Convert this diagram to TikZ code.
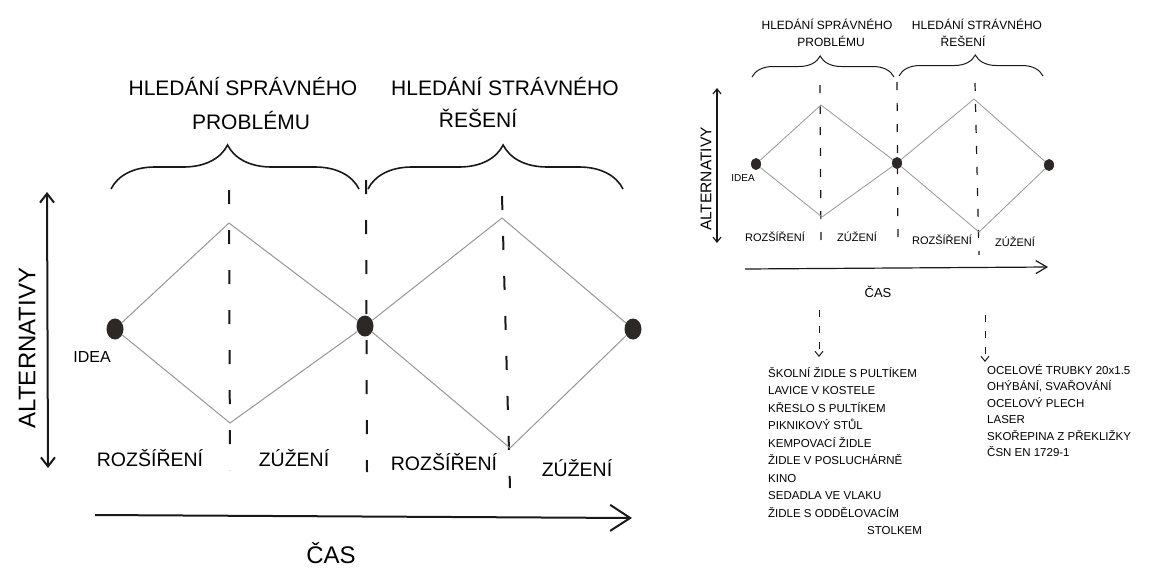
\documentclass[tikz,border=0pt]{standalone}
\usepackage{fontspec}
\setmainfont{Liberation Sans}
\usetikzlibrary{arrows.meta, decorations.pathreplacing, shapes.geometric}
\definecolor{inkblack}{RGB}{25, 25, 25}
\definecolor{pathgray}{RGB}{150, 150, 150}
\definecolor{dotdark}{RGB}{45, 40, 38}

\tikzset{
  bigdot/.style={ellipse, fill=dotdark, inner sep=0pt, minimum width=17pt, minimum height=21pt},
  smalldot/.style={ellipse, fill=dotdark, inner sep=0pt, minimum width=10pt, minimum height=12pt},
  funnel/.style={pathgray, line width=1pt},
  bigsep/.style={inkblack, line width=2pt, dash pattern=on 14pt off 26pt},
  smallsep/.style={inkblack, line width=1.2pt, dash pattern=on 8pt off 13pt},
  bigbrace/.style={inkblack, line width=1.6pt, decorate, decoration={brace, amplitude=44pt, aspect=#1}},
  smallbrace/.style={inkblack, line width=1pt, decorate, decoration={brace, amplitude=21pt, aspect=#1}},
  bigaxis/.style={inkblack, line width=2pt},
  smallaxis/.style={inkblack, line width=1.2pt}
}

\begin{document}
\begin{tikzpicture}[x=1pt, y=-1pt, >=Stealth]

  \useasboundingbox (0, 0) rectangle (1157, 568);

  % ---------- Large sketch ----------
  % Headings
  \node[font=\fontsize{21}{34}\selectfont, align=center] (headA1) at (243, 103) {HLEDÁNÍ SPRÁVNÉHO\\\hspace*{16pt}PROBLÉMU};
  \node[font=\fontsize{21}{32}\selectfont, align=center] (headA2) at (505, 102) {HLEDÁNÍ STRÁVNÉHO\\ŘEŠENÍ\hspace*{54pt}};

  % Braces
  \draw[bigbrace=0.47] (111, 189) -- (359, 189);
  \draw[bigbrace=0.53] (368, 189) -- (623, 189);

  % Axes
  \draw[bigaxis, {Straight Barb[length=9pt, width=14pt]}-{Straight Barb[length=9pt, width=14pt]}] (47, 192) -- (48, 468);
  \node[font=\fontsize{24}{24}\selectfont, rotate=90] (altA) at (27, 348) {ALTERNATIVY};
  \draw[bigaxis, -{Straight Barb[length=20pt, width=26pt]}] (95, 515) -- (632, 518);
  \node[font=\fontsize{24}{24}\selectfont] (casA) at (331, 553) {ČAS};

  % Phase separators
  \draw[bigsep] (229, 190) -- (230, 470);
  \draw[bigsep] (366, 180) -- (367, 472);
  \draw[bigsep] (502, 196) -- (510, 488);

  % Funnels
  \node[bigdot] (ideaA) at (115, 329) {};
  \node[bigdot] (midA) at (365, 326) {};
  \node[bigdot] (endA) at (633, 329) {};
  \coordinate (topA1) at (229, 223);
  \coordinate (botA1) at (230, 423);
  \coordinate (topA2) at (502, 218);
  \coordinate (botA2) at (510, 448);
  \draw[funnel] (ideaA) -- (topA1) -- (midA) -- (botA2) -- (endA);
  \draw[funnel] (ideaA) -- (botA1) -- (midA) -- (topA2) -- (endA);
  \node[font=\fontsize{16}{16}\selectfont] (ideaLabA) at (92, 357) {IDEA};

  % Phase labels
  \node[font=\fontsize{19.5}{20}\selectfont] (rozA1) at (150, 458) {ROZŠÍŘENÍ};
  \node[font=\fontsize{19.5}{20}\selectfont] (zuzA1) at (294, 458) {ZÚŽENÍ};
  \node[font=\fontsize{19.5}{20}\selectfont] (rozA2) at (444, 462) {ROZŠÍŘENÍ};
  \node[font=\fontsize{19.5}{20}\selectfont] (zuzA2) at (577, 468) {ZÚŽENÍ};

  % ---------- Small sketch ----------
  % Headings
  \node[font=\fontsize{12}{17}\selectfont, align=center] (headB1) at (827, 33) {HLEDÁNÍ SPRÁVNÉHO\\\hspace*{8pt}PROBLÉMU};
  \node[font=\fontsize{12}{17}\selectfont, align=center] (headB2) at (977, 33) {HLEDÁNÍ STRÁVNÉHO\\ŘEŠENÍ\hspace*{28pt}};

  % Braces
  \draw[smallbrace=0.48] (752, 77) -- (894, 77);
  \draw[smallbrace=0.53] (899, 76) -- (1043, 76);

  % Axes
  \draw[smallaxis, {Straight Barb[length=5pt, width=8pt]}-{Straight Barb[length=5pt, width=8pt]}] (717, 88) -- (717, 243);
  \node[font=\fontsize{15.5}{16}\selectfont, rotate=90] (altB) at (706, 179) {ALTERNATIVY};
  \draw[smallaxis, -{Straight Barb[length=11pt, width=13pt]}] (745, 269) -- (1048, 267);
  \node[font=\fontsize{13}{13}\selectfont] (casB) at (878, 292) {ČAS};

  % Phase separators
  \draw[smallsep] (820, 85) -- (821, 242);
  \draw[smallsep] (897, 82) -- (898, 245);
  \draw[smallsep] (975, 83) -- (979, 255);

  % Funnels
  \node[smalldot] (ideaB) at (756, 164) {};
  \node[smalldot] (midB) at (897, 163) {};
  \node[smalldot] (endB) at (1049, 165) {};
  \coordinate (topB1) at (821, 105);
  \coordinate (botB1) at (822, 217);
  \coordinate (topB2) at (974, 99);
  \coordinate (botB2) at (979, 232);
  \draw[funnel, line width=0.8pt] (ideaB) -- (topB1) -- (midB) -- (botB2) -- (endB);
  \draw[funnel, line width=0.8pt] (ideaB) -- (botB1) -- (midB) -- (topB2) -- (endB);
  \node[font=\fontsize{10}{10}\selectfont] (ideaLabB) at (743, 178) {IDEA};

  % Phase labels
  \node[font=\fontsize{11}{11}\selectfont] (rozB1) at (775, 237) {ROZŠÍŘENÍ};
  \node[font=\fontsize{11}{11}\selectfont] (zuzB1) at (857, 237) {ZÚŽENÍ};
  \node[font=\fontsize{11}{11}\selectfont] (rozB2) at (942, 240) {ROZŠÍŘENÍ};
  \node[font=\fontsize{11}{11}\selectfont] (zuzB2) at (1015, 242) {ZÚŽENÍ};

  % Lists
  \node[font=\fontsize{11.5}{17.5}\selectfont, align=left, anchor=north west, inner sep=0pt] (listL) at (768, 367)
    {ŠKOLNÍ ŽIDLE S PULTÍKEM\\
     LAVICE V KOSTELE\\
     KŘESLO S PULTÍKEM\\
     PIKNIKOVÝ STŮL\\
     KEMPOVACÍ ŽIDLE\\
     ŽIDLE V POSLUCHÁRNĚ\\
     KINO\\
     SEDADLA VE VLAKU\\
     ŽIDLE S ODDĚLOVACÍM\\
     \hspace*{99pt}STOLKEM};
  \node[font=\fontsize{11.5}{16.5}\selectfont, align=left, anchor=north west, inner sep=0pt] (listR) at (987, 364)
    {OCELOVÉ TRUBKY 20x1.5\\
     OHÝBÁNÍ, SVAŘOVÁNÍ\\
     OCELOVÝ PLECH\\
     LASER\\
     SKOŘEPINA Z PŘEKLIŽKY\\
     ČSN EN 1729-1};

  \coordinate (srcL) at (819, 310);
  \coordinate (srcR) at (985, 315);
  \draw[smallaxis, line width=1pt, dash pattern=on 7pt off 9pt, -{Straight Barb[length=5pt, width=8pt]}, shorten >=10pt] (srcL) -- (srcL |- listL.north);
  \draw[smallaxis, line width=1pt, dash pattern=on 7pt off 9pt, -{Straight Barb[length=5pt, width=8pt]}, shorten >=2pt] (srcR) -- (srcR |- listR.north);

\end{tikzpicture}
\end{document}
